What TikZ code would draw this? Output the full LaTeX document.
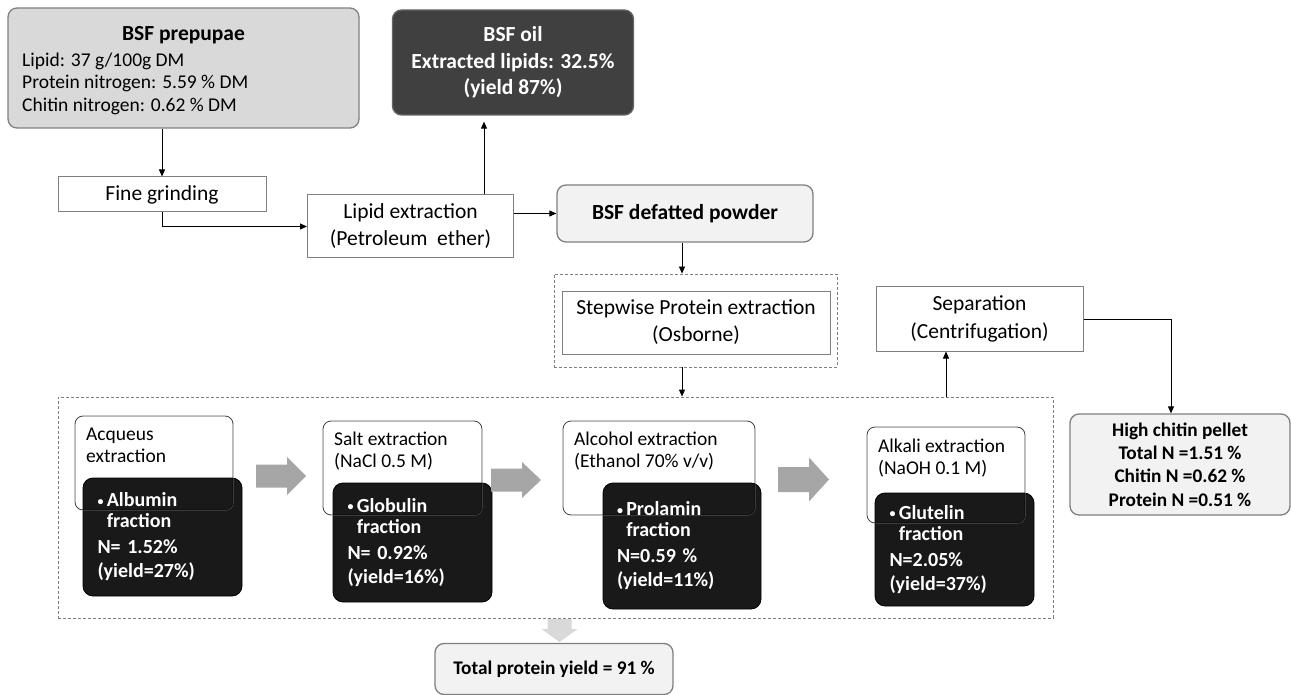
\documentclass[tikz,border=0pt]{standalone}
\usepackage{fontspec}
\setmainfont{Carlito}
\usetikzlibrary{arrows.meta}
\definecolor{bordergray}{HTML}{7F7F7F}
\definecolor{ppfill}{HTML}{D9D9D9}
\definecolor{oilfill}{HTML}{404040}
\definecolor{lightfill}{HTML}{F2F2F2}
\definecolor{harrowgray}{HTML}{A6A6A6}
\definecolor{varrowgray}{HTML}{D9D9D9}
\definecolor{dashgray}{HTML}{808080}
\newcommand{\smallbul}{{\fontsize{12}{12}\selectfont\raisebox{1.5pt}{\textbullet}}\,}
\tikzset{
  arr/.style={draw=black, line width=0.8pt, -{Triangle[length=7pt,width=6pt]}},
  plainbox/.style={draw=bordergray, line width=1pt, fill=white, inner sep=0pt, align=center,
    font=\fontsize{21.5}{27}\selectfont},
  softbox/.style={draw=bordergray, line width=1.3pt, rounded corners=9pt, inner sep=0pt, align=center},
  dashbox/.style={draw=dashgray, line width=0.8pt, dash pattern=on 3pt off 2pt, inner sep=0pt},
  stepbox/.style={draw=black!80, line width=0.8pt, fill=white, rounded corners=8pt, inner sep=0pt},
  steptext/.style={anchor=north west, inner sep=0pt, align=left, font=\fontsize{19.5}{21.5}\selectfont},
  fracbox/.style={draw=black, line width=0.8pt, fill=black, fill opacity=0.9, draw opacity=1,
    text opacity=1, rounded corners=10pt, inner sep=0pt, text=white, align=left,
    text width=130pt, font=\bfseries\fontsize{20}{21}\selectfont},
  ghostline/.style={draw=white, draw opacity=0.18, line width=0.8pt, rounded corners=8pt},
  harrow/.style={fill=harrowgray},
  varrow/.style={fill=varrowgray},
  pptext/.style={anchor=west, inner sep=0pt, font=\fontsize{19.5}{23}\selectfont},
}
\begin{document}
\begin{tikzpicture}[x=1pt,y=-1pt]
\useasboundingbox (0,0) rectangle (1291,695);

% top boxes
\node[softbox, fill=ppfill, minimum width=351pt, minimum height=120pt] (pp) at (183.5,68) {};
\node[inner sep=0pt, font=\bfseries\fontsize{21.5}{24}\selectfont] (pptitle) at (183.5,35) {BSF prepupae};
\node[pptext] (pp1) at (22,61) {Lipid: 37 g/100g DM};
\node[pptext] (pp2) at (22,83.5) {Protein nitrogen: 5.59 \% DM};
\node[pptext] (pp3) at (22,106) {Chitin nitrogen: 0.62 \% DM};

\node[softbox, fill=oilfill, draw=black!60, text=white, minimum width=241pt, minimum height=105pt,
  font=\bfseries\fontsize{21.5}{26.5}\selectfont] (oil) at (513,62.5)
  {BSF oil\\Extracted lipids: 32.5\%\\(yield 87\%)};

\node[plainbox, minimum width=208pt, minimum height=35pt] (fg) at (162,194.5) {Fine grinding};
\node[plainbox, minimum width=206pt, minimum height=63pt] (lip) at (410.5,226.5)
  {Lipid extraction\\(Petroleum\ \ ether)};
\node[softbox, fill=lightfill, minimum width=256pt, minimum height=57pt,
  font=\bfseries\fontsize{21.5}{24}\selectfont] (def) at (685,213.5) {BSF defatted powder};

% Osborne
\node[dashbox, minimum width=283pt, minimum height=93pt] (osb) at (695.5,320.5) {};
\node[plainbox, minimum width=268pt, minimum height=63pt] (step) at (696,322.5)
  {Stepwise Protein extraction\\(Osborne)};
\node[plainbox, minimum width=207pt, minimum height=64pt, font=\fontsize{21.5}{28}\selectfont] (sep) at (979.5,319)
  {Separation\\(Centrifugation)};

% big dashed area
\node[dashbox, minimum width=995pt, minimum height=221pt] (big) at (555.5,507.5) {};

% extraction steps
\node[stepbox, minimum width=158pt, minimum height=94pt] (aq) at (154,463) {};
\node[steptext] (aqt) at (86,428) {Acqueus\\extraction};
\node[stepbox, minimum width=159pt, minimum height=94pt] (salt) at (402.5,468) {};
\node[steptext] (saltt) at (334,432) {Salt extraction\\(NaCl 0.5 M)};
\node[stepbox, minimum width=192pt, minimum height=94pt] (alc) at (659,468) {};
\node[steptext] (alct) at (574,432) {Alcohol extraction\\(Ethanol 70\% v/v)};
\node[stepbox, minimum width=158pt, minimum height=96pt] (alk) at (946,475) {};
\node[steptext] (alkt) at (878,439) {Alkali extraction\\(NaOH 0.1 M)};

\node[fracbox, minimum width=159pt, minimum height=118pt] (alb) at (162.5,537)
  {\smallbul Albumin\\\hphantom{\smallbul}fraction\\[5pt]N= 1.52\%\\[3pt](yield=27\%)};
\node[fracbox, minimum width=159pt, minimum height=119pt] (glo) at (412.5,542.5)
  {\smallbul Globulin\\\hphantom{\smallbul}fraction\\[5pt]N= 0.92\%\\[3pt](yield=16\%)};
\node[fracbox, minimum width=158pt, minimum height=126pt] (pro) at (682,546)
  {\smallbul Prolamin\\\hphantom{\smallbul}fraction\\[5pt]N=0.59 \%\\[3pt](yield=11\%)};
\node[fracbox, minimum width=159pt, minimum height=113pt] (glu) at (954.5,549.5)
  {\smallbul Glutelin\\\hphantom{\smallbul}fraction\\[5pt]N=2.05\%\\[3pt](yield=37\%)};

% faint outline of the step boxes seen through the dark boxes
\draw[ghostline] (aq.south west) rectangle (aq.north east);
\draw[ghostline] (salt.south west) rectangle (salt.north east);
\draw[ghostline] (alc.south west) rectangle (alc.north east);
\draw[ghostline] (alk.south west) rectangle (alk.north east);

% block arrows
\fill[harrow, shift={(256,476)}] (0,-11.5) -- (31,-11.5) -- (31,-19) -- (50,0) -- (31,19) -- (31,11.5) -- (0,11.5) -- cycle;
\fill[harrow, shift={(491,480)}] (0,-11.5) -- (31,-11.5) -- (31,-18) -- (50,0) -- (31,18) -- (31,11.5) -- (0,11.5) -- cycle;
\fill[harrow, shift={(778,479.5)}] (0,-12.5) -- (31,-12.5) -- (31,-22) -- (51,0) -- (31,22) -- (31,12.5) -- (0,12.5) -- cycle;
\fill[varrow, shift={(559.5,619)}] (-12,0) -- (12,0) -- (12,10) -- (18,10) -- (0,23) -- (-18,10) -- (-12,10) -- cycle;

% right and bottom result boxes
\node[softbox, fill=lightfill, minimum width=220pt, minimum height=101pt,
  font=\bfseries\fontsize{19.3}{23.3}\selectfont] (hc) at (1180,464.5)
  {High chitin pellet\\Total N =1.51 \%\\Chitin N =0.62 \%\\Protein N =0.51 \%};
\node[softbox, fill=lightfill, minimum width=238pt, minimum height=51pt,
  font=\bfseries\fontsize{19.3}{22}\selectfont] (tot) at (554,669) {Total protein yield = 91 \%};

% connectors
\coordinate (c1) at (682,0);
\coordinate (c2) at (946,0);
\coordinate (c3) at (484,0);
\draw[arr] (fg.north |- pp.south) -- (fg.north);
\draw[arr] (fg.south) |- (lip.west);
\draw[arr, shorten >=6pt] (lip.north -| c3) -- (oil.south -| c3);
\draw[arr] (lip.east |- def.west) -- (def.west);
\draw[arr] (def.south -| c1) -- (osb.north -| c1);
\draw[arr] (osb.south -| c1) -- (big.north -| c1);
\draw[arr] (big.north -| c2) -- (sep.south -| c2);
\draw[arr] (sep.east) -| ([xshift=-9pt]hc.north);
\end{tikzpicture}
\end{document}
